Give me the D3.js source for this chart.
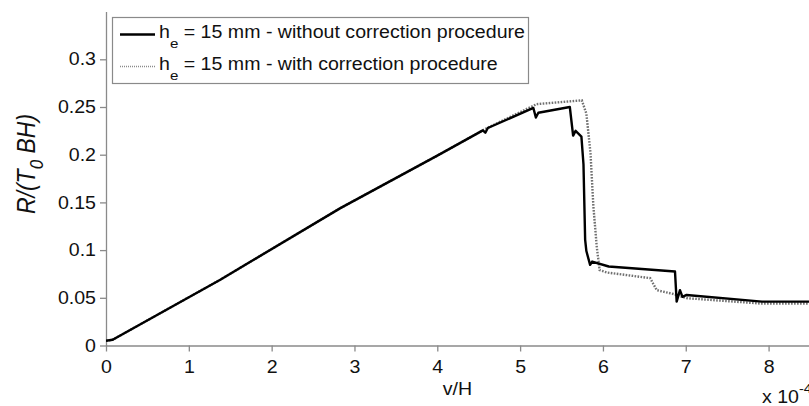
<!DOCTYPE html>
<html>
<head>
<meta charset="utf-8">
<title>R/(T0 BH) vs v/H</title>
<script src="https://d3js.org/d3.v7.min.js"></script>
<style>
body { margin: 0; background: #fff; }
svg { display: block; font-family: "Liberation Sans", Arial, sans-serif; }
.axis path, .axis line { stroke: #8a8a8a; stroke-width: 1.3px; }
.axis text { fill: #111; font-size: 17.5px; font-family: "Liberation Sans", Arial, sans-serif; }
</style>
</head>
<body>
<script>
// values (v/H in units of 1e-4)
var withoutX = [0, 0.08, 1.38, 2.83, 4.0, 4.55, 4.58, 4.61, 5.16, 5.19, 5.22, 5.60, 5.64, 5.67, 5.74,
                5.765, 5.785, 5.80, 5.845, 5.87, 6.07, 6.87, 6.89, 6.93, 6.96, 7.01, 7.92, 8.6];
var withoutY = [0.005, 0.006, 0.069, 0.144, 0.199, 0.2255, 0.223, 0.228, 0.249, 0.239, 0.244, 0.250, 0.220, 0.225, 0.219,
                0.19, 0.111, 0.099, 0.0845, 0.088, 0.0828, 0.0775, 0.046, 0.058, 0.051, 0.053, 0.046, 0.046];

var withX = [0, 0.08, 1.38, 2.83, 4.0, 4.58, 5.20, 5.745, 5.80, 5.85, 5.885, 5.925, 5.96, 6.05,
             6.57, 6.65, 6.85, 7.01, 7.90, 8.6];
var withY = [0.005, 0.006, 0.069, 0.144, 0.199, 0.227, 0.253, 0.257, 0.243, 0.2015, 0.1456, 0.1037, 0.079, 0.0765,
             0.0706, 0.058, 0.054, 0.0496, 0.044, 0.044];

var xTicks = [0, 1, 2, 3, 4, 5, 6, 7, 8];
var yTicks = [0, 0.05, 0.1, 0.15, 0.2, 0.25, 0.3];
var yTickLabels = ["0", "0.05", "0.1", "0.15", "0.2", "0.25", "0.3"];
var legendLabels = [" = 15 mm - without correction procedure", " = 15 mm - with correction procedure"];

var width = 809, height = 406;
var sx = 1.12; // the picture's text is a bit wider than it is tall

var x = d3.scaleLinear().domain([0, 8.5]).range([106, 810]);
var y = d3.scaleLinear().domain([0, 0.35]).range([345.5, 11.6]);

var svg = d3.select("body").append("svg")
  .attr("width", width)
  .attr("height", height);

// axes
svg.append("g")
  .attr("class", "axis")
  .attr("transform", "translate(0," + y(0) + ")")
  .call(d3.axisBottom(x).tickValues(xTicks).tickFormat(d3.format("d"))
    .tickSize(6).tickSizeOuter(0).tickPadding(9))
  .selectAll("text").attr("transform", "scale(" + sx + ",1)");

svg.append("g")
  .attr("class", "axis")
  .attr("transform", "translate(" + x(0) + ",0)")
  .call(d3.axisLeft(y).tickValues(yTicks)
    .tickFormat(function(d, i) { return yTickLabels[i]; })
    .tickSize(6).tickSizeOuter(0).tickPadding(4))
  .selectAll("text")
    .attr("x", -10 / sx)
    .attr("transform", "scale(" + sx + ",1)");

// lines
var line = d3.line()
  .x(function(d) { return x(d[0]); })
  .y(function(d) { return y(d[1]); });

svg.append("clipPath").attr("id", "plot")
  .append("rect").attr("x", x(0)).attr("y", 0).attr("width", width).attr("height", y(0));

svg.append("path")
  .datum(d3.zip(withX, withY))
  .attr("clip-path", "url(#plot)")
  .attr("fill", "none")
  .attr("stroke", "#707070")
  .attr("stroke-width", 2.4)
  .attr("stroke-dasharray", "1.6,1.4")
  .attr("d", line);

svg.append("path")
  .datum(d3.zip(withoutX, withoutY))
  .attr("clip-path", "url(#plot)")
  .attr("fill", "none")
  .attr("stroke", "#000")
  .attr("stroke-width", 2.4)
  .attr("stroke-linejoin", "round")
  .attr("d", line);

// legend
var legend = svg.append("g");
legend.append("rect")
  .attr("x", 112.5).attr("y", 17.5)
  .attr("width", 416).attr("height", 66)
  .attr("fill", "#fff")
  .attr("stroke", "#8a8a8a")
  .attr("stroke-width", 1.2);

legendLabels.forEach(function(lab, i) {
  var ly = 34.5 + i * 32;
  legend.append("line")
    .attr("x1", 120).attr("x2", 155)
    .attr("y1", ly).attr("y2", ly)
    .attr("stroke", i == 0 ? "#000" : "#8a8a8a")
    .attr("stroke-width", i == 0 ? 2.4 : 1.4)
    .attr("stroke-dasharray", i == 0 ? null : "1,1");
  var t = legend.append("text")
    .attr("transform", "translate(159," + (ly + 3) + ") scale(" + sx + ",1)")
    .attr("font-size", 17.5)
    .attr("fill", "#111");
  t.append("tspan").text("h");
  t.append("tspan").attr("dy", 10).attr("font-size", 13.5).text("e");
  t.append("tspan").attr("dy", -10).text(lab);
});

// axis labels
var yl = svg.append("text")
  .attr("transform", "translate(35,164) scale(" + sx + ",1) rotate(-90)")
  .attr("text-anchor", "middle")
  .attr("font-size", 23)
  .attr("font-style", "italic")
  .attr("fill", "#111");
yl.append("tspan").text("R/(T");
yl.append("tspan").attr("dy", 7).attr("font-size", 17).text("0");
yl.append("tspan").attr("dy", -7).text(" BH)");

svg.append("text")
  .attr("transform", "translate(457.5,395) scale(" + sx + ",1)")
  .attr("text-anchor", "middle")
  .attr("font-size", 17.5)
  .attr("fill", "#111")
  .text("v/H");

var ex = svg.append("text")
  .attr("transform", "translate(762,403) scale(" + sx + ",1)")
  .attr("font-size", 17.5)
  .attr("fill", "#111");
ex.append("tspan").text("x 10");
ex.append("tspan").attr("dy", -10).attr("font-size", 13).text("-4");
</script>
</body>
</html>
